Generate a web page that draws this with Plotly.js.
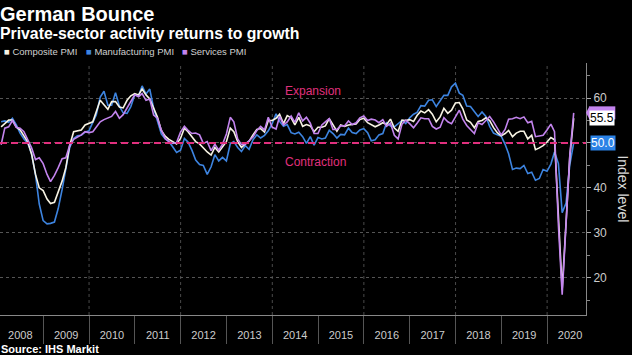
<!DOCTYPE html>
<html>
<head>
<meta charset="utf-8">
<script src="https://cdn.plot.ly/plotly-3.0.1.min.js"></script>
<style>
html,body{margin:0;padding:0;background:#000;}
#chart{width:632px;height:355px;}
</style>
</head>
<body>
<div id="chart"></div>
<script>
// ---- Data (monthly, Jan 2008 – Jul 2020) ----
const startYear = 2008;
const seriesNames = ["Composite PMI", "Manufacturing PMI", "Services PMI"];

const composite = [
  53.6, 54.4, 55.1, 55.1, 53.5, 52.9, 51.6, 50.2, 47.5, 43.0, 40.0, 39.4,
  37.5, 36.5, 36.8, 38.9, 41.5, 44.5, 49.5, 52.5, 52.7, 52.9, 54.0, 54.3,
  54.7, 57.0, 59.5, 58.5, 57.5, 59.2, 59.2, 58.0, 57.8, 59.5, 60.5, 61.0,
  60.7, 62.0, 60.7, 59.8, 57.8, 55.8, 52.8, 51.5, 50.8, 50.3, 49.8, 51.0,
  53.3, 52.5, 51.5, 50.3, 49.8, 48.8, 48.0, 47.3, 49.0, 48.0, 49.2, 50.3,
  53.3, 52.5, 50.3, 49.0, 49.8, 50.4, 51.8, 53.0, 53.2, 52.4, 55.0, 55.0,
  55.5, 56.4, 54.3, 56.1, 55.6, 54.0, 55.7, 53.7, 54.1, 53.8, 52.5, 53.5,
  53.5, 53.8, 55.4, 54.1, 52.6, 54.0, 53.7, 54.0, 54.1, 54.2, 55.2, 55.5,
  54.5, 54.1, 53.6, 54.0, 54.5, 54.1, 55.3, 53.3, 52.6, 55.1, 55.0, 55.2,
  54.8, 56.1, 57.1, 56.7, 57.4, 56.4, 54.7, 55.8, 57.7, 56.6, 57.3, 58.9,
  59.0, 57.6, 55.1, 54.6, 53.4, 54.8, 55.0, 55.6, 55.0, 53.4, 52.3, 51.6,
  52.1, 52.8, 51.4, 52.2, 52.6, 52.6, 50.9, 51.7, 48.5, 48.9, 49.4, 50.2,
  51.2, 50.7, 35.0, 17.4, 32.3, 47.0, 55.5
];

const manufacturing = [
  54.7, 54.9, 54.6, 55.5, 54.0, 52.2, 50.9, 49.9, 47.6, 42.9, 36.4, 32.7,
  32.0, 32.1, 32.4, 35.4, 39.6, 44.6, 49.0, 51.0, 51.6, 51.7, 52.4, 52.7,
  54.7, 56.3, 60.2, 61.5, 58.4, 58.4, 61.2, 58.2, 56.7, 56.6, 58.1, 60.7,
  60.5, 62.7, 60.9, 62.0, 57.7, 54.6, 52.0, 50.9, 50.3, 49.1, 47.9, 48.4,
  51.0, 50.2, 48.4, 46.2, 45.2, 45.0, 43.0, 44.7, 47.4, 46.0, 46.8, 46.0,
  49.8, 50.3, 49.0, 48.1, 49.4, 48.6, 50.7, 51.8, 51.1, 51.7, 52.7, 54.3,
  56.5, 54.8, 53.7, 54.1, 52.3, 52.0, 52.4, 51.4, 49.9, 51.4, 49.5, 51.2,
  50.9, 51.1, 52.8, 52.1, 51.1, 51.9, 51.8, 53.3, 52.3, 52.1, 52.9, 53.2,
  52.3, 50.5, 50.7, 51.8, 52.1, 54.5, 53.8, 53.6, 54.3, 55.0, 54.3, 55.6,
  56.4, 56.8, 58.3, 58.2, 59.5, 59.6, 58.1, 59.3, 60.6, 60.6, 62.5, 63.3,
  61.1, 60.6, 58.2, 58.1, 56.9, 55.9, 56.9, 55.9, 53.7, 52.2, 51.8, 51.5,
  49.7, 47.6, 44.1, 44.4, 44.3, 45.0, 43.2, 43.5, 41.7, 42.1, 44.1, 43.7,
  45.3, 48.0, 45.4, 34.5, 36.6, 45.2, 50.0
];

const services = [
  49.6, 53.3, 53.6, 55.0, 53.5, 53.3, 52.5, 50.8, 48.9, 46.3, 46.7, 45.4,
  43.0, 41.4, 42.8, 44.5, 46.5, 46.7, 49.5, 50.8, 51.3, 51.8, 52.5, 52.3,
  52.5, 53.5, 54.7, 55.2, 55.6, 55.9, 57.0, 55.5, 56.3, 57.8, 59.2, 60.7,
  60.3, 61.0, 59.5, 59.8, 56.2, 55.5, 52.9, 51.0, 50.3, 49.9, 50.1, 52.4,
  53.7, 52.8, 52.1, 52.2, 51.8, 49.9, 50.3, 48.3, 49.7, 48.4, 49.7, 52.0,
  55.7, 54.7, 50.9, 49.6, 49.7, 50.4, 51.3, 52.8, 53.7, 52.9, 55.7, 53.5,
  53.1, 55.9, 54.0, 54.7, 56.0, 54.6, 56.7, 54.9, 55.7, 54.4, 52.1, 52.1,
  54.0, 54.7, 55.4, 53.0, 53.0, 53.8, 53.8, 54.9, 54.1, 54.5, 55.6, 56.0,
  55.0, 55.3, 55.1, 54.5, 55.2, 53.7, 54.4, 51.7, 50.9, 54.2, 55.1, 54.3,
  53.4, 54.4, 55.6, 55.4, 55.4, 53.7, 53.1, 53.5, 55.6, 54.7, 54.3, 55.8,
  57.3, 55.3, 53.9, 53.0, 52.1, 54.5, 54.1, 55.0, 55.9, 54.7, 53.3, 51.8,
  53.0, 55.3, 55.4, 55.7, 55.4, 55.8, 54.5, 54.8, 51.4, 51.6, 51.7, 52.9,
  54.2, 52.5, 31.7, 16.2, 32.6, 47.3, 56.7
];

const gridYears = [2010, 2012, 2014, 2016, 2018, 2020];
const thresholdValue = 50;

// month-end dates
function monthEnd(i) {
  const y = startYear + Math.floor(i / 12);
  const m = i % 12;
  const d = new Date(Date.UTC(y, m + 1, 0));
  return d.toISOString().slice(0, 10);
}
const dates = composite.map((_, i) => monthEnd(i));

// ---- Styles ----
const FONT = '"Liberation Sans", Arial, sans-serif';
const colComp = '#f7f3e3';
const colMfg = '#3d84e0';
const colSvc = '#c384ee';
const pink = '#e0307e';

const traces = [
  {x: dates, y: manufacturing, name: seriesNames[1], mode: 'lines', line: {color: colMfg, width: 1.6}},
  {x: dates, y: composite, name: seriesNames[0], mode: 'lines', line: {color: colComp, width: 1.6}},
  {x: dates, y: services, name: seriesNames[2], mode: 'lines', line: {color: colSvc, width: 1.6}}
];

const last = a => a[a.length - 1];

const shapes = gridYears.map(y => ({
  type: 'line', xref: 'x', yref: 'paper', x0: y + '-01-01', x1: y + '-01-01', y0: 0, y1: 1,
  line: {color: '#4a4a4a', width: 1, dash: 'dot'}, layer: 'below'
}));
shapes.push({
  type: 'line', xref: 'paper', yref: 'y', x0: 0, x1: 1, y0: thresholdValue, y1: thresholdValue,
  line: {color: pink, width: 2, dash: '7px,4px'}, layer: 'above'
});
// services value tag (its label sits behind the composite tag, as in the original)
shapes.push({
  type: 'rect', xref: 'paper', yref: 'y', x0: 1.005, x1: 1.05,
  y0: last(services) - 1.45, y1: last(services) + 1.45,
  fillcolor: colSvc, line: {width: 0}
});
shapes.push({
  type: 'path', xref: 'paper', yref: 'y',
  path: 'M 1.0 ' + last(services) + ' L 1.006 ' + (last(services) + 1.45) + ' L 1.006 ' + (last(services) - 1.45) + ' Z',
  fillcolor: colSvc, line: {width: 0}
});

const annotations = [
  {xref: 'paper', yref: 'paper', x: 0, y: 1.195, xanchor: 'left', yanchor: 'middle', xshift: -2,
   text: '<b>German Bounce</b>', showarrow: false, font: {family: FONT, size: 20, color: '#ffffff'}},
  {xref: 'paper', yref: 'paper', x: 0, y: 1.119, xanchor: 'left', yanchor: 'middle', xshift: -2,
   text: '<b>Private-sector activity returns to growth</b>', showarrow: false, font: {family: FONT, size: 15.8, color: '#ffffff'}},
  {xref: 'paper', yref: 'paper', x: 0.004, y: 1.044, xanchor: 'left', yanchor: 'middle',
   text: '<span style="color:' + colComp + '">■</span> ' + seriesNames[0], showarrow: false, font: {family: FONT, size: 9.5, color: '#d0d0d0'}},
  {xref: 'paper', yref: 'paper', x: 0.144, y: 1.044, xanchor: 'left', yanchor: 'middle',
   text: '<span style="color:' + colMfg + '">■</span> ' + seriesNames[1], showarrow: false, font: {family: FONT, size: 9.5, color: '#d0d0d0'}},
  {xref: 'paper', yref: 'paper', x: 0.308, y: 1.044, xanchor: 'left', yanchor: 'middle',
   text: '<span style="color:' + colSvc + '">■</span> ' + seriesNames[2], showarrow: false, font: {family: FONT, size: 9.5, color: '#d0d0d0'}},
  {xref: 'paper', yref: 'y', x: 0.534, y: 61.6, text: 'Expansion', showarrow: false, font: {family: FONT, size: 12, color: pink}},
  {xref: 'paper', yref: 'y', x: 0.539, y: 45.8, text: 'Contraction', showarrow: false, font: {family: FONT, size: 12, color: pink}},
  {xref: 'paper', yref: 'paper', x: 0, y: -0.135, xanchor: 'left', yanchor: 'middle', xshift: -1,
   text: '<b>Source: IHS Markit</b>', showarrow: false, font: {family: FONT, size: 11, color: '#ffffff'}},
  {xref: 'paper', yref: 'paper', x: 1.0625, y: 0.50, textangle: 90, xanchor: 'center', yanchor: 'middle',
   text: 'Index level', showarrow: false, font: {family: FONT, size: 14, color: '#d8d8d8'}},
  // end-of-series value tags
  {xref: 'paper', yref: 'y', x: 1, y: last(composite), xanchor: 'left', yanchor: 'middle', xshift: 3,
   text: last(composite).toFixed(1), showarrow: false, bgcolor: '#ffffff', borderpad: 0,
   font: {family: FONT, size: 12, color: '#000'}},
  {xref: 'paper', yref: 'y', x: 1, y: last(manufacturing), xanchor: 'left', yanchor: 'middle', xshift: 4,
   text: last(manufacturing).toFixed(1), showarrow: false, bgcolor: '#2b82e6', borderpad: 0,
   font: {family: FONT, size: 12, color: '#fff'}}
];

const layout = {
  width: 632, height: 355,
  paper_bgcolor: '#000', plot_bgcolor: '#000',
  margin: {l: 0, r: 46, t: 63, b: 40},
  showlegend: false,
  font: {family: FONT, color: '#cccccc'},
  xaxis: {
    type: 'date', range: ['2008-01-22', '2020-11-06'],
    dtick: 'M12', tick0: '2008-01-01', tickformat: '%Y', ticklabelmode: 'period',
    ticks: 'outside', ticklen: 28, tickcolor: '#555', tickwidth: 1,
    ticklabelstandoff: -18,
    showgrid: false, zeroline: false, showline: true, linecolor: '#888', linewidth: 1,
    tickfont: {family: FONT, size: 11, color: '#cccccc'}
  },
  yaxis: {
    side: 'right', range: [11.7, 67.8], dtick: 10, tick0: 0,
    labelalias: {'50': ' '},
    ticks: 'outside', ticklen: 4, tickcolor: '#aaa',
    showline: true, linecolor: '#888', linewidth: 1,
    showgrid: true, gridcolor: '#555', griddash: 'dot', zeroline: false,
    tickfont: {family: FONT, size: 12, color: '#cccccc'},
    minor: {dtick: 5, ticks: 'outside', ticklen: 3, tickcolor: '#888', showgrid: false}
  },
  shapes: shapes,
  annotations: annotations
};

Plotly.newPlot('chart', traces, layout, {displayModeBar: false, staticPlot: true});
</script>
</body>
</html>
